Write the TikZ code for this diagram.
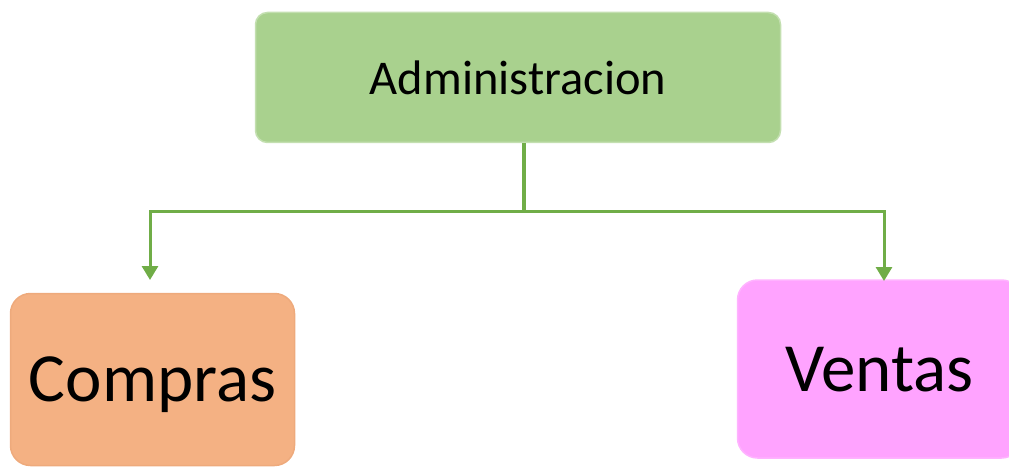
\documentclass[tikz,border=0pt]{standalone}
\usepackage{fontspec}
\setmainfont{Carlito}
\usetikzlibrary{arrows.meta}
\definecolor{adminfill}{HTML}{A9D18E}
\definecolor{adminline}{HTML}{C3DFB0}
\definecolor{comprasfill}{HTML}{F4B183}
\definecolor{comprasline}{HTML}{EEAA7C}
\definecolor{ventasfill}{HTML}{FFA3FF}
\definecolor{ventasline}{HTML}{FFB3FF}
\definecolor{linkgreen}{HTML}{70AD47}
\tikzset{
  box/.style={shape=rectangle,line width=1.5pt,inner sep=0pt,text depth=0pt},
  link/.style={draw=linkgreen,line width=3pt},
  tip/.style={-{Triangle[width=16pt,length=14pt]}}
}
\begin{document}
\begin{tikzpicture}[x=1pt,y=-1pt]
      \useasboundingbox (0,0) rectangle (1009,468);
      \clip (0,0) rectangle (1009,468);

      \node[box,fill=adminfill,draw=adminline,rounded corners=12pt,minimum width=525pt,minimum height=130pt,font=\fontsize{48.5}{58}\selectfont] (A) at (518,77.5) {Administracion};
      \node[box,fill=comprasfill,draw=comprasline,rounded corners=20pt,minimum width=284pt,minimum height=172pt,font=\fontsize{69}{82}\selectfont] (C) at (152.5,379.5) {Compras};
      \node[box,fill=ventasfill,draw=ventasline,rounded corners=20pt,minimum width=284pt,minimum height=178pt,font=\fontsize{69}{82}\selectfont] (V) at (879.5,369) {Ventas};

      \coordinate (J) at (524,211);
      \coordinate (CL) at (150,280);
      \coordinate (VR) at (884,281);

      \draw[link,line width=4pt] (A.south -| J) -- (J);
      \draw[link,tip] (J) -| (CL);
      \draw[link,tip] (J) -| (VR);
  \end{tikzpicture}
\end{document}
